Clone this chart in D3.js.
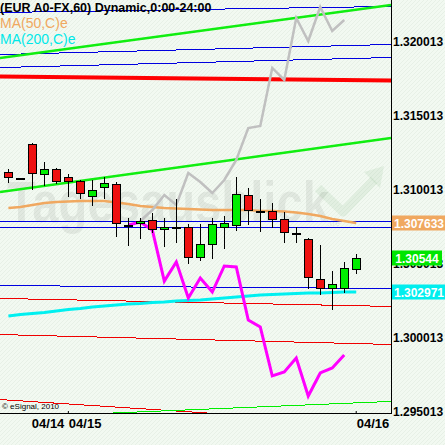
<!DOCTYPE html>
<html>
<head>
<meta charset="utf-8">
<script src="https://cdn.jsdelivr.net/npm/d3@7"></script>
<style>
  body { margin: 0; background: #f1f8f0; }
  svg { display: block; font-family: "Liberation Sans", Arial, sans-serif; }
</style>
</head>
<body>
<svg id="chart" width="445" height="445"></svg>
<script>
// hourly candles, EUR A0-FX
const openP  = [1.31123, 1.31083, 1.31312, 1.31110, 1.31143, 1.31089, 1.31062, 1.30961, 1.31022, 1.31042,
                1.30765, 1.30778, 1.30799, 1.30738, 1.30751, 1.30751, 1.30549, 1.30637, 1.30751, 1.30765,
                1.30968, 1.30860, 1.30860, 1.30805, 1.30711, 1.30670, 1.30400, 1.30339, 1.30339, 1.30468]
const highP  = [1.31143, 1.31084, 1.31319, 1.31191, 1.31150, 1.31110, 1.31069, 1.31069, 1.31089, 1.31055,
                1.30812, 1.30812, 1.30846, 1.30812, 1.30941, 1.30772, 1.30772, 1.30812, 1.30826, 1.31089,
                1.31015, 1.30941, 1.30914, 1.30853, 1.30751, 1.30677, 1.30630, 1.30454, 1.30515, 1.30569]
const lowP   = [1.31055, 1.31080, 1.31008, 1.31035, 1.31049, 1.30961, 1.30947, 1.30900, 1.30947, 1.30691,
                1.30630, 1.30677, 1.30718, 1.30623, 1.30650, 1.30508, 1.30528, 1.30542, 1.30609, 1.30731,
                1.30772, 1.30724, 1.30751, 1.30650, 1.30650, 1.30339, 1.30299, 1.30197, 1.30312, 1.30441]
const closeP = [1.31089, 1.31081, 1.31116, 1.31143, 1.31062, 1.31062, 1.30981, 1.31001, 1.31049, 1.30778,
                1.30765, 1.30792, 1.30738, 1.30751, 1.30751, 1.30549, 1.30637, 1.30772, 1.30778, 1.30974,
                1.30866, 1.30860, 1.30805, 1.30718, 1.30711, 1.30414, 1.30339, 1.30366, 1.30474, 1.30544]

const ma50 = [1.30880, 1.30886, 1.30900, 1.30914, 1.30920, 1.30924, 1.30927, 1.30927, 1.30927, 1.30917,
              1.30907, 1.30893, 1.30886, 1.30880, 1.30876, 1.30873, 1.30870, 1.30866, 1.30866, 1.30866,
              1.30866, 1.30859, 1.30859, 1.30856, 1.30849, 1.30839, 1.30826, 1.30805, 1.30792, 1.30778]
const ma200 = [1.30150, 1.30160, 1.30167, 1.30174, 1.30184, 1.30194, 1.30201, 1.30211, 1.30218, 1.30224,
               1.30231, 1.30234, 1.30241, 1.30245, 1.30251, 1.30255, 1.30258, 1.30265, 1.30272, 1.30278,
               1.30285, 1.30292, 1.30295, 1.30299, 1.30302, 1.30305, 1.30305, 1.30309, 1.30312, 1.30312]

// overlay symbols (start index, values)
const grayStart = 11
const grayVals = [1.30792, 1.30866, 1.30968, 1.30900, 1.31116, 1.31055, 1.30981, 1.31069, 1.31204, 1.31420,
                  1.31434, 1.31826, 1.31745, 1.32164, 1.32008, 1.32238, 1.32076, 1.32150]
const pinkStart = 10
const pinkVals = [1.30765, 1.30785, 1.30731, 1.30386, 1.30515, 1.30272, 1.30407, 1.30312, 1.30488, 1.30481,
                  1.30123, 1.30076, 1.29745, 1.29772, 1.29866, 1.29609, 1.29765, 1.29799, 1.29886]

// channel lines: [price at left edge, price at right edge]
const blueLevels = [[1.32204, 1.32245], [1.31920, 1.31988], [1.31832, 1.31900],
                    [1.30792, 1.30792], [1.30751, 1.30751], [1.30359, 1.30339]]
const redLevels = [[1.30272, 1.30218], [1.30028, 1.29961], [1.29589, 1.29417]]
const redMain = [1.31768, 1.31741]
const greenChannel = [[1.31893, 1.32251], [1.30988, 1.31353]]
const greenLow = [1.29466, 1.29576]

const yTicks = [1.295013, 1.300013, 1.305013, 1.310013, 1.315013, 1.320013]
const dateTicks = [5, 29]
const dateLabels = ["04/15", "04/16"]
const firstDate = "04/14"
const labelMA50 = "1.307633"
const labelLast = "1.30544"
const labelMA200 = "1.302971"

const W = 445, H = 445
const pw = 391, ph = 413

const svg = d3.select("#chart")

const x = d3.scaleLinear().domain([-0.7, 31.9]).range([0, pw])
const y = d3.scaleLinear().domain([1.295013, 1.320013]).range([412, 42])
const cx = i => Math.round(x(i)) + 0.5
const py = v => Math.round(y(v)) + 0.5

// background hatch
const defs = svg.append("defs")
const pat = defs.append("pattern")
    .attr("id", "hatch").attr("width", 4).attr("height", 4)
    .attr("patternUnits", "userSpaceOnUse")
pat.append("rect").attr("width", 4).attr("height", 4).attr("fill", "#f2f9f1")
pat.append("path").attr("d", "M0,4 L4,0").attr("stroke", "#e7f0e6").attr("stroke-width", 1)
svg.append("rect").attr("width", W).attr("height", H).attr("fill", "url(#hatch)")

defs.append("clipPath").attr("id", "plot")
    .append("rect").attr("width", pw).attr("height", ph)

// watermark
const wm = svg.append("g").attr("clip-path", "url(#plot)")
wm.append("text")
    .attr("x", 7).attr("y", 222)
    .attr("font-size", 58).attr("font-weight", "bold")
    .attr("textLength", 322).attr("lengthAdjust", "spacingAndGlyphs")
    .attr("fill", "#000").attr("fill-opacity", 0.065)
    .text("Tagesausblick")
wm.append("text").attr("x", 327).attr("y", 226).attr("font-size", 9).attr("font-weight", "bold")
    .attr("fill", "#000").attr("fill-opacity", 0.07).text(".de")
wm.append("polyline")
    .attr("points", "318,188 343,212 374,180")
    .attr("fill", "none").attr("stroke", "#2a7a2a").attr("stroke-opacity", 0.08)
    .attr("stroke-width", 9).attr("stroke-linejoin", "round")
wm.append("polygon")
    .attr("points", "364,172 384,166 380,188")
    .attr("fill", "#2a7a2a").attr("fill-opacity", 0.08)

const plot = svg.append("g").attr("clip-path", "url(#plot)")
const x0 = x.domain()[0], x1 = x.domain()[1]

function level(g, pair, color, width, crisp) {
    g.append("line")
        .attr("x1", x(x0)).attr("x2", x(x1))
        .attr("y1", y(pair[0]) + (crisp ? 0.5 : 0)).attr("y2", y(pair[1]) + (crisp ? 0.5 : 0))
        .attr("stroke", color).attr("stroke-width", width)
        .attr("shape-rendering", crisp ? "crispEdges" : null)
}

blueLevels.forEach(d => level(plot, d, "#0000e0", 1, true))
redLevels.forEach(d => level(plot, d, "#f00000", 1, true))
level(plot, greenLow, "#00ee00", 1, true)
level(plot, redMain, "#ff0000", 4, false)
greenChannel.forEach(d => level(plot, d, "#10ee10", 2.5, false))

const line = d3.line().x(d => x(d[0])).y(d => y(d[1]))

plot.append("path")
    .attr("d", line(ma50.map((v, i) => [i, v])))
    .attr("fill", "none").attr("stroke", "#f0a860").attr("stroke-width", 2.5)
plot.append("path")
    .attr("d", line(ma200.map((v, i) => [i, v])))
    .attr("fill", "none").attr("stroke", "#00f0f0").attr("stroke-width", 3)
plot.append("path")
    .attr("d", line(grayVals.map((v, i) => [i + grayStart, v])))
    .attr("fill", "none").attr("stroke", "#c0c0c0").attr("stroke-width", 2.5)
plot.append("path")
    .attr("d", line(pinkVals.map((v, i) => [i + pinkStart, v])))
    .attr("fill", "none").attr("stroke", "#ff00ff").attr("stroke-width", 3)

// candles
const candles = plot.selectAll("g.candle")
    .data(openP.map((o, i) => ({i, o, h: highP[i], l: lowP[i], c: closeP[i]})))
    .join("g").attr("class", "candle")

candles.append("line")
    .attr("x1", d => cx(d.i)).attr("x2", d => cx(d.i))
    .attr("y1", d => Math.round(y(d.h))).attr("y2", d => Math.round(y(d.l)) + 1)
    .attr("stroke", "#000").attr("stroke-width", 1)

candles.append("rect")
    .attr("x", d => cx(d.i) - 4)
    .attr("width", 8)
    .attr("y", d => py(Math.max(d.o, d.c)))
    .attr("height", d => Math.max(1, py(Math.min(d.o, d.c)) - py(Math.max(d.o, d.c))))
    .attr("fill", d => d.c > d.o ? "#00ee00" : (d.c < d.o ? "#ee1111" : "#000"))
    .attr("stroke", "#000").attr("stroke-width", 1)

// axes
svg.append("line").attr("x1", pw + 0.5).attr("x2", pw + 0.5).attr("y1", 0).attr("y2", ph + 1)
    .attr("stroke", "#000")
svg.append("line").attr("x1", 0).attr("x2", pw + 1).attr("y1", ph + 0.5).attr("y2", ph + 0.5)
    .attr("stroke", "#000")

const yAxis = svg.append("g")
    .attr("transform", `translate(${pw},0)`)
    .call(d3.axisRight(y).tickValues(yTicks).tickSize(0).tickPadding(2).tickFormat(d3.format(".6f")))
yAxis.select(".domain").remove()
yAxis.selectAll("text")
    .attr("font-family", "Liberation Sans, Arial, sans-serif")
    .attr("font-size", 12).attr("font-weight", "bold").attr("fill", "#000")

const xAxis = svg.append("g")
    .attr("transform", `translate(0,${ph})`)
    .call(d3.axisBottom(x).tickValues(dateTicks).tickSize(-2).tickPadding(0)
        .tickFormat((d, k) => dateLabels[k]))
xAxis.select(".domain").remove()
xAxis.selectAll("line").attr("stroke", "#000").attr("transform", "translate(-0.5,0)")
xAxis.selectAll("text")
    .attr("font-family", "Liberation Sans, Arial, sans-serif")
    .attr("font-size", 13).attr("font-weight", "bold").attr("fill", "#000")
    .attr("text-anchor", "start").attr("dy", null).attr("y", 15)
    .attr("x", 0)
svg.append("text")
    .attr("x", x(dateTicks[0]) - 4).attr("y", ph + 15)
    .attr("text-anchor", "end")
    .attr("font-size", 13).attr("font-weight", "bold")
    .text(firstDate)

// value tags on price axis
function tag(value, text, bg, w) {
    const yy = y(value)
    svg.append("rect")
        .attr("x", pw + 1).attr("y", Math.round(yy) - 7.5)
        .attr("width", w).attr("height", 15).attr("fill", bg)
    svg.append("text")
        .attr("x", pw + 1 + w / 2).attr("y", Math.round(yy) + 4.5)
        .attr("text-anchor", "middle")
        .attr("font-size", 12).attr("font-weight", "bold").attr("fill", "#fff")
        .text(text)
}
tag(ma50[ma50.length - 1], labelMA50, "#f0a860", 54)
tag(closeP[closeP.length - 1], labelLast, "#00e600", 50)
tag(ma200[ma200.length - 1], labelMA200, "#00eeee", 54)

// header and legend
svg.append("text").attr("x", 0).attr("y", 12)
    .attr("font-size", 12.5).attr("font-weight", "bold").attr("fill", "#000")
    .text("(EUR A0-FX,60) Dynamic,0:00-24:00")
svg.append("text").attr("x", 0).attr("y", 28)
    .attr("font-size", 14).attr("fill", "#f0a860")
    .text("MA(50,C)e")
svg.append("text").attr("x", 0).attr("y", 44)
    .attr("font-size", 14).attr("fill", "#00e8e8")
    .text("MA(200,C)e")

svg.append("text").attr("x", 2).attr("y", 409)
    .attr("font-size", 8).attr("fill", "#000")
    .text("© eSignal, 2010")
</script>
</body>
</html>
